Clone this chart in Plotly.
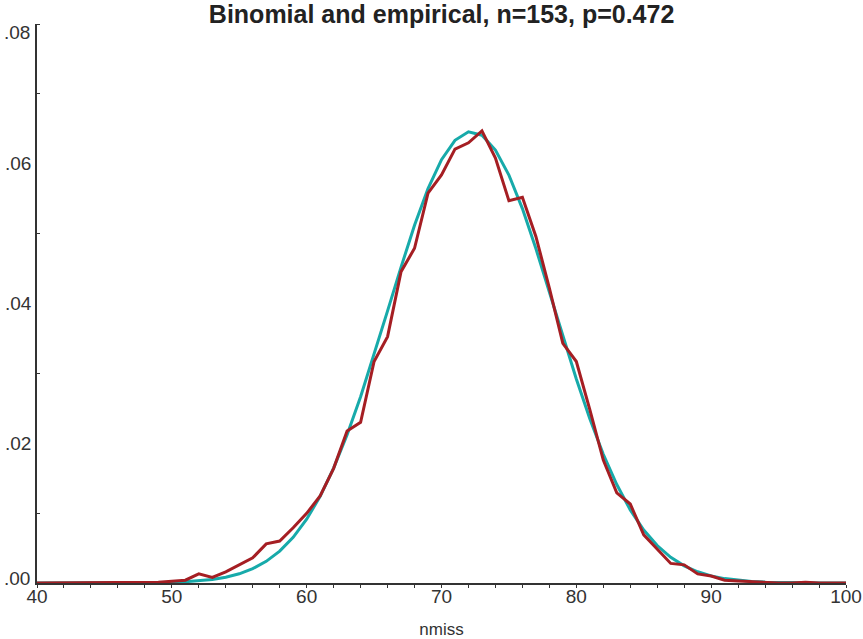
import plotly.graph_objects as go

k_values = list(range(40, 101))

binomial = [
    0.0, 0.0, 0.0, 0.0, 0.0, 0.0, 0.0, 0.0, 0.00003, 0.00005,   # 40-49
    0.0001, 0.00018, 0.0003, 0.00051, 0.00083, 0.00132, 0.00206, 0.0031, 0.00456, 0.00654,  # 50-59
    0.00913, 0.01241, 0.01645, 0.02123, 0.02666, 0.03265, 0.03895, 0.0452, 0.05121, 0.05644,  # 60-69
    0.06058, 0.06336, 0.06457, 0.06409, 0.06196, 0.05837, 0.05358, 0.04786, 0.04168, 0.03535,  # 70-79
    0.0292, 0.0235, 0.01842, 0.01409, 0.01046, 0.00758, 0.00536, 0.00368, 0.00246, 0.00161,  # 80-89
    0.00102, 0.00063, 0.00038, 0.00022, 0.00013, 0.00007, 0.00004, 0.00002, 0.00001, 0.0, 0.0,  # 90-100
]

empirical = [
    0.0, 0.0, 0.0, 0.0, 0.0, 0.00003, 0.0, 0.00005, 0.0001, 0.0001,   # 40-49
    0.00024, 0.0004, 0.0013, 0.0008, 0.0016, 0.0026, 0.0036, 0.0056, 0.006, 0.0079,  # 50-59
    0.00997, 0.01245, 0.01641, 0.02175, 0.023, 0.0317, 0.03526, 0.04456, 0.0479, 0.0558,  # 60-69
    0.0584, 0.0621, 0.063, 0.0647, 0.0608, 0.0547, 0.0552, 0.0496, 0.0422, 0.0343,  # 70-79
    0.0317, 0.0248, 0.0176, 0.0129, 0.0113, 0.0069, 0.0048, 0.0028, 0.0026, 0.0013,  # 80-89
    0.001, 0.0004, 0.0003, 0.0002, 0.0, 0.0, 0.0, 0.0001, 0.0, 0.0, 0.0,  # 90-100
]

x_tickvals = [40, 50, 60, 70, 80, 90, 100]
x_ticktext = ["40", "50", "60", "70", "80", "90", "100"]
y_tickvals = [0.02, 0.04, 0.06]
y_ticktext = [".02", ".04", ".06"]
y_end_vals = [0.0, 0.08]
y_end_text = [".00", ".08"]

fig = go.Figure()
fig.add_trace(go.Scatter(x=k_values, y=binomial, mode="lines",
                         line=dict(color="#17AAAA", width=3), name="binomial"))
fig.add_trace(go.Scatter(x=k_values, y=empirical, mode="lines",
                         line=dict(color="#A51E23", width=3), name="empirical"))

# end labels of the y axis are nudged inward like in the reference
for val, txt, shift in zip(y_end_vals, y_end_text, [5, -8]):
    fig.add_annotation(x=0, xref="paper", y=val, yref="y", text=txt,
                       showarrow=False, xanchor="right", yanchor="middle",
                       xshift=-5, yshift=shift,
                       font=dict(size=19, color="#333"))

fig.update_layout(
    width=863, height=639,
    margin=dict(l=37, r=17, t=24, b=56),
    paper_bgcolor="white", plot_bgcolor="white",
    showlegend=False,
    font=dict(family="Liberation Sans, Arial, sans-serif", color="#222"),
    title=dict(text="<b>Binomial and empirical, n=153, p=0.472</b>",
               x=0.5117, xanchor="center", y=0.991, yanchor="top",
               font=dict(size=25, color="#222")),
)
fig.update_xaxes(
    range=[40, 100], tickvals=x_tickvals, ticktext=x_ticktext, automargin=False,
    showgrid=False, zeroline=False, showline=True, linecolor="#333", linewidth=1.5,
    ticks="outside", ticklen=3, tickcolor="#333", ticklabelstandoff=-8,
    minor=dict(tickvals=list(range(42, 100, 2)), ticks="outside", ticklen=3, tickcolor="#333"),
    tickfont=dict(size=19, color="#333"),
    title=dict(text="nmiss", font=dict(size=17, color="#333"), standoff=20),
)
fig.update_yaxes(
    range=[0, 0.08], tickvals=y_tickvals, ticktext=y_ticktext, automargin=False,
    showgrid=False, zeroline=False, showline=True, linecolor="#333", linewidth=1.5,
    ticks="", tickcolor="#333",
    minor=dict(tickvals=[0.01, 0.03, 0.05, 0.07, 0.08], ticks="inside", ticklen=3, tickcolor="#333"),
    tickfont=dict(size=19, color="#333"),
)

fig.write_html("out.html", config={"displayModeBar": False},
               post_script="document.body.style.margin='0';")
